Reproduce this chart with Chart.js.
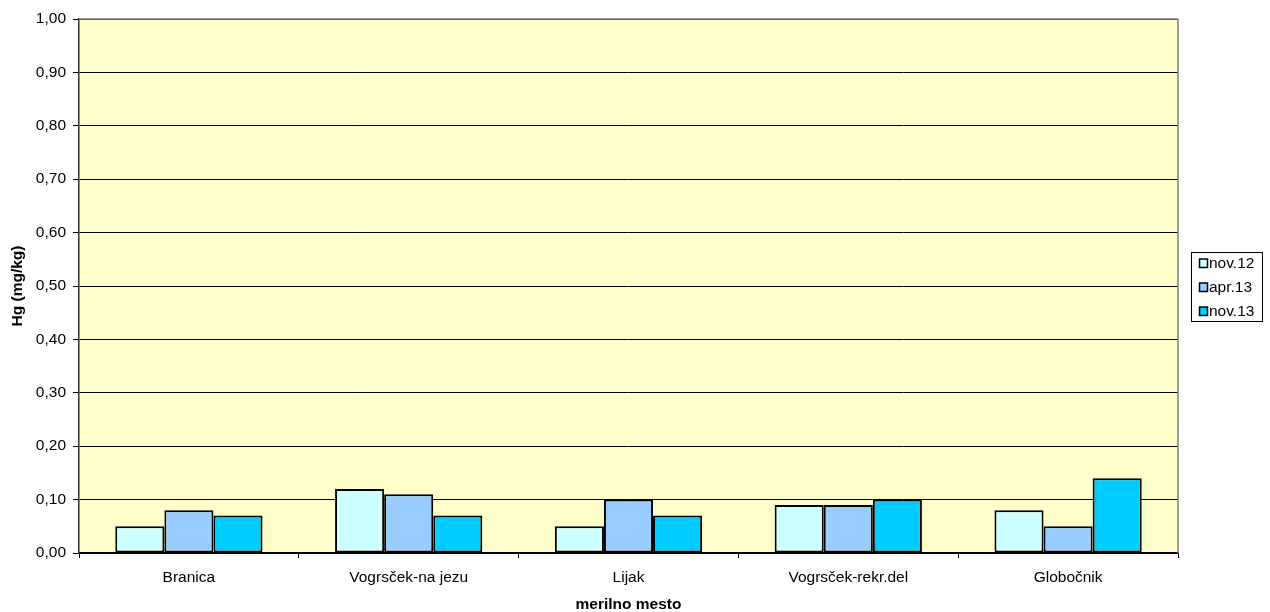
<!DOCTYPE html>
<html>
<head>
<meta charset="utf-8">
<script src="https://cdn.jsdelivr.net/npm/chart.js@4/dist/chart.umd.min.js"></script>
<style>
  html, body { margin: 0; padding: 0; background: #ffffff; }
  #wrap { width: 1270px; height: 612px; position: relative; }
</style>
</head>
<body>
<div id="wrap"><canvas id="c" width="1270" height="612"></canvas></div>
<script>
// Sampling sites and mercury content per campaign
const categories = ['Branica', 'Vogrsček-na jezu', 'Lijak', 'Vogrsček-rekr.del', 'Globočnik'];
const seriesNames = ['nov.12', 'apr.13', 'nov.13'];
const nov12 = [0.05, 0.12, 0.05, 0.09, 0.08];
const apr13 = [0.08, 0.11, 0.10, 0.09, 0.05];
const nov13 = [0.07, 0.07, 0.07, 0.10, 0.14];
const seriesColors = ['#CCFFFF', '#99CCFF', '#00CCFF'];

const FONT = 'Arial, "Liberation Sans", sans-serif';
const FSIZE = 15.5;

// Plot background plus grey top/right frame
const plotFrame = {
  id: 'plotFrame',
  beforeDraw(chart) {
    const { ctx, chartArea: a } = chart;
    ctx.save();
    ctx.fillStyle = '#FFFFCC';
    ctx.fillRect(a.left, a.top, a.right - a.left, a.bottom - a.top);
    ctx.restore();
  },
  afterDatasetsDraw(chart) {
    const { ctx, chartArea: a } = chart;
    ctx.save();
    ctx.strokeStyle = '#808080';
    ctx.lineWidth = 1.5;
    ctx.beginPath();
    ctx.moveTo(a.left, a.top);
    ctx.lineTo(a.right, a.top);
    ctx.lineTo(a.right, a.bottom);
    ctx.stroke();
    ctx.restore();
  }
};

// Boxed legend on the right side
const boxedLegend = {
  id: 'boxedLegend',
  afterDraw(chart) {
    const { ctx } = chart;
    const x = 1191, y = 252, w = 71, h = 69;
    ctx.save();
    ctx.fillStyle = '#ffffff';
    ctx.fillRect(x, y, w, h);
    ctx.strokeStyle = '#000000';
    ctx.lineWidth = 1;
    ctx.strokeRect(x + 0.5, y + 0.5, w, h);
    ctx.font = FSIZE + 'px ' + FONT;
    ctx.textBaseline = 'middle';
    chart.data.datasets.forEach((ds, i) => {
      const cy = y + 11 + i * 24;
      ctx.fillStyle = ds.backgroundColor;
      ctx.fillRect(x + 8, cy - 4, 9, 9);
      ctx.strokeStyle = '#000000';
      ctx.lineWidth = 1.5;
      ctx.strokeRect(x + 8.5, cy - 4, 8, 8.5);
      ctx.fillStyle = '#000000';
      ctx.fillText(ds.label, x + 18, cy + 1);
    });
    ctx.restore();
  }
};

new Chart(document.getElementById('c'), {
  type: 'bar',
  data: {
    labels: categories,
    datasets: [
      { label: seriesNames[0], data: nov12, backgroundColor: seriesColors[0] },
      { label: seriesNames[1], data: apr13, backgroundColor: seriesColors[1] },
      { label: seriesNames[2], data: nov13, backgroundColor: seriesColors[2] }
    ].map(d => Object.assign(d, {
      borderColor: '#000000',
      borderWidth: 2,
      borderSkipped: false,
      categoryPercentage: 0.67,
      barPercentage: 1.0
    }))
  },
  options: {
    responsive: false,
    animation: false,
    devicePixelRatio: 1,
    layout: { padding: { left: 0, right: 92, top: 19, bottom: 0 } },
    plugins: {
      legend: { display: false },
      tooltip: { enabled: false }
    },
    scales: {
      x: {
        offset: true,
        grid: { display: true, drawOnChartArea: false, drawTicks: true, tickLength: 5, color: '#000000', offset: true },
        border: { display: true, color: '#000000', width: 1.5 },
        ticks: { color: '#000000', font: { family: FONT, size: FSIZE }, padding: 10, maxRotation: 0 },
        title: { display: true, text: 'merilno mesto', color: '#000000', font: { family: FONT, size: FSIZE, weight: 'bold', lineHeight: 1.0 }, padding: { top: 2, bottom: 0 } },
        afterFit(scale) { scale.height = 59; }
      },
      y: {
        min: 0,
        max: 1,
        grid: { color: '#000000', lineWidth: 1, drawTicks: true, tickLength: 6, tickColor: '#000000' },
        border: { display: true, color: '#333333', width: 1.5 },
        ticks: {
          stepSize: 0.1,
          color: '#000000',
          font: { family: FONT, size: FSIZE },
          padding: 7,
          callback: v => v.toFixed(2).replace('.', ',')
        },
        title: { display: true, text: 'Hg (mg/kg)', color: '#000000', font: { family: FONT, size: FSIZE, weight: 'bold' }, padding: { top: 8, bottom: 2 } },
        afterFit(scale) { scale.width = 79; }
      }
    }
  },
  plugins: [plotFrame, boxedLegend]
});
</script>
</body>
</html>
